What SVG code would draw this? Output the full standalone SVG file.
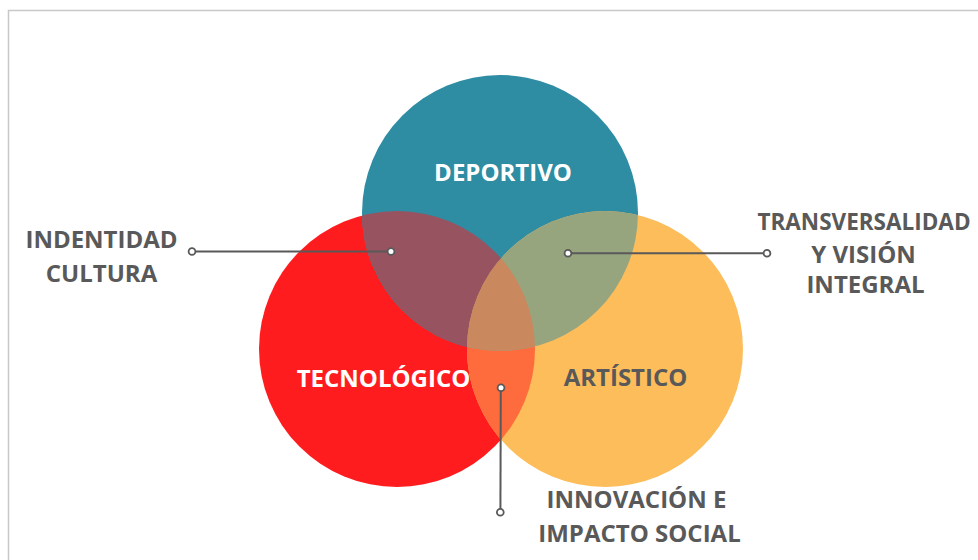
<svg xmlns="http://www.w3.org/2000/svg" width="978" height="560" viewBox="0 0 978 560">
<style>
.lbl{font-family:"Open Sans","Liberation Sans",sans-serif;font-weight:700;font-size:24px;text-anchor:middle}
.w{fill:#ffffff}
.g{fill:#595959}
.ln{stroke:#595959;stroke-width:2;fill:none}
.dot{fill:#ffffff;stroke:#595959;stroke-width:1.8}
</style>
<defs>
<clipPath id="cB"><circle cx="500" cy="213" r="138"/></clipPath>
<clipPath id="cO"><circle cx="605" cy="349" r="138"/></clipPath>
</defs>
<rect width="978" height="560" fill="#ffffff"/>
<path d="M8.5,560 V10.5 H978" fill="none" stroke="#c8c8c8" stroke-width="1.5"/>
<g id="venn">
<circle id="tecnologico" cx="397" cy="349" r="138" fill="#ff1c1f"/>
<circle id="deportivo" cx="500" cy="213" r="138" fill="#2e8ca3"/>
<circle id="artistico" cx="605" cy="349" r="138" fill="#fdbd5b"/>
<circle cx="397" cy="349" r="138" fill="#975460" clip-path="url(#cB)"/>
<circle cx="397" cy="349" r="138" fill="#fe6b3c" clip-path="url(#cO)"/>
<circle cx="500" cy="213" r="138" fill="#97a57f" clip-path="url(#cO)"/>
<g clip-path="url(#cO)"><circle cx="397" cy="349" r="138" fill="#ca885e" clip-path="url(#cB)"/></g>
</g>
<g id="connectors">
<line class="ln" x1="192" y1="251.5" x2="391" y2="251.5"/>
<circle class="dot" cx="192" cy="251.5" r="3.4"/>
<circle class="dot" cx="391" cy="251.5" r="3.4"/>
<line class="ln" x1="568" y1="253.3" x2="767" y2="253.3"/>
<circle class="dot" cx="568" cy="253.3" r="3.4"/>
<circle class="dot" cx="767" cy="253.3" r="3.4"/>
<line class="ln" x1="500.8" y1="387.7" x2="500.4" y2="512.3"/>
<circle class="dot" cx="501" cy="387.7" r="3.4"/>
<circle class="dot" cx="500.3" cy="512.3" r="3.4"/>
</g>
<g id="label-deportivo"><text class="lbl w" x="503" y="180.5">DEPORTIVO</text></g>
<g id="label-tecnologico"><text class="lbl w" x="383.5" y="387">TECNOLÓGICO</text></g>
<g id="label-artistico"><text class="lbl g" x="625.5" y="386">ARTÍSTICO</text></g>
<g id="label-identidad"><text class="lbl g" x="101.5" y="248">INDENTIDAD</text><text class="lbl g" x="101.5" y="281.5">CULTURA</text></g>
<g id="label-transversalidad"><text class="lbl g" x="864" y="230" style="font-size:22.5px">TRANSVERSALIDAD</text><text class="lbl g" x="863.5" y="262.5">Y VISIÓN</text><text class="lbl g" x="865.5" y="292.5">INTEGRAL</text></g>
<g id="label-innovacion"><text class="lbl g" x="636.5" y="508">INNOVACIÓN E</text><text class="lbl g" x="639.5" y="541.5">IMPACTO SOCIAL</text></g>
</svg>
